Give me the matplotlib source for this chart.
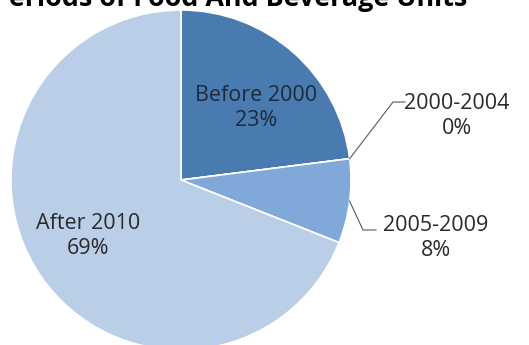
import numpy as np
import matplotlib
matplotlib.use("Agg")
import matplotlib.pyplot as plt

categories = ["Before 2000", "2000-2004", "2005-2009", "After 2010"]
values = [23, 0, 8, 69]
pct_labels = ["23%", "0%", "8%", "69%"]
colors = ["#4A7BB0", "#5F8FC6", "#80A9DA", "#BACEE8"]

W, H = 529, 345
fig = plt.figure(figsize=(W / 100, H / 100), dpi=100)
ax = fig.add_axes([0, 0, 1, 1])

cx, cy, R = 181, 165, 170
wedges, _ = ax.pie(values, colors=colors, startangle=90, counterclock=False,
                   center=(cx, cy), radius=R, frame=True,
                   wedgeprops=dict(edgecolor="white", linewidth=1.2))
ax.set_xlim(0, W)
ax.set_ylim(0, H)
ax.set_aspect("equal")
ax.axis("off")

font = ["Open Sans", "DejaVu Sans"]
tc = "#2a2a2a"
fs = 15.5
ls = 1.3

def mid_angle(w):
    return np.deg2rad((w.theta1 + w.theta2) / 2)

# inside labels
ax.text(256, 237, f"{categories[0]}\n{pct_labels[0]}", ha="center", va="center",
        fontsize=fs, color="#1c2a3c", family=font, linespacing=ls)
ax.text(88, 109, f"{categories[3]}\n{pct_labels[3]}", ha="center", va="center",
        fontsize=fs, color=tc, family=font, linespacing=ls)

# outside labels with leader lines
for i, (tx, ty, kx, ky, hx) in [(1, (457, 229, 393, 243, 405)),
                                 (2, (436, 107, 363, 115, 376))]:
    w = wedges[i]
    a = mid_angle(w)
    ex, ey = cx + R * np.cos(a), cy + R * np.sin(a)
    ax.plot([ex, kx, hx], [ey, ky, ky], color="#595959", lw=0.8)
    ax.text(tx, ty, f"{categories[i]}\n{pct_labels[i]}", ha="center", va="center",
            fontsize=fs, color=tc, family=font, linespacing=ls)

ax.text(467, 339, "Periods of Food And Beverage Units", ha="right", va="baseline",
        fontsize=19.4, fontweight="bold", color="#000000", family=font)

fig.savefig("out.png", dpi=100)
